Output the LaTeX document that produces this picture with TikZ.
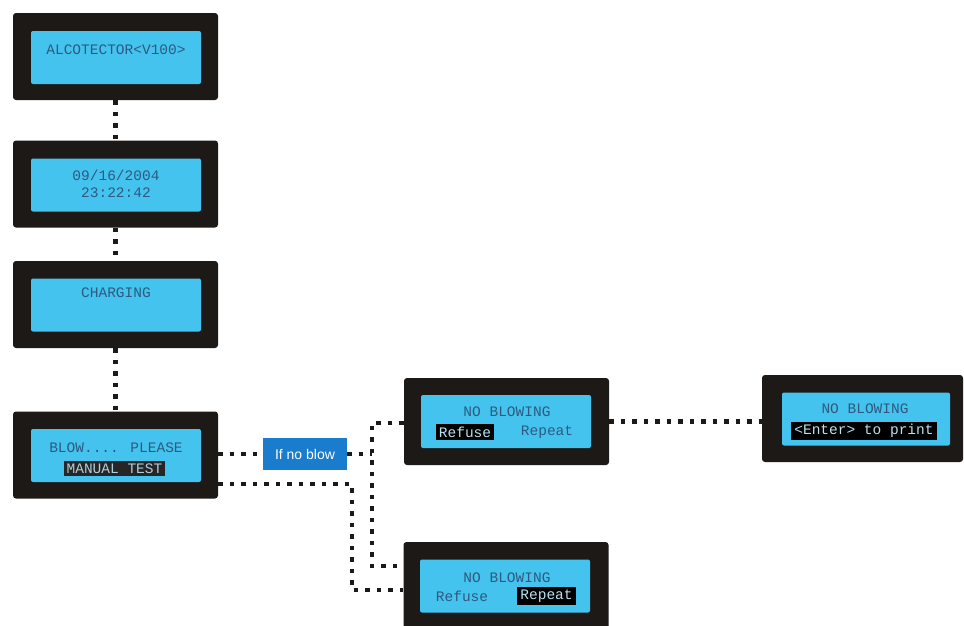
\documentclass[tikz,border=0pt]{standalone}
\usepackage{fontspec}
\setmainfont{Liberation Sans}
\newfontfamily\lcdfont{Liberation Mono}
\definecolor{framec}{HTML}{1C1917}
\definecolor{screenc}{HTML}{43C3EE}
\definecolor{lcdtext}{HTML}{2E5A80}
\definecolor{hltext}{HTML}{B8E2F0}
\definecolor{lblc}{HTML}{1A7CCC}
\begin{document}
\begin{tikzpicture}[x=1pt,y=-1pt,
  frame/.style={fill=framec, rounded corners=3pt, minimum width=205pt, minimum height=87pt, inner sep=0pt},
  screen/.style={fill=screenc, rounded corners=2pt, minimum width=170pt, minimum height=53pt, inner sep=0pt},
  lcd/.style={font=\lcdfont\fontsize{14.5}{16}\selectfont, text=lcdtext, inner sep=0pt},
  hl/.style={lcd, fill=black, text=hltext, inner xsep=3pt, inner ysep=2.5pt},
  dotline/.style={draw=framec, line width=4.5pt, dash pattern=on 4.5pt off 7pt},
  lbl/.style={fill=lblc, text=white, font=\fontsize{14}{16}\selectfont, minimum width=84pt, minimum height=32pt, inner sep=0pt}]
\clip (0,0) rectangle (964,625);
\fill[white] (0,0) rectangle (964,625);
% connectors first (under boxes)
\node[frame] (B1) at (115.5,56.5) {};
\node[frame] (B2) at (115.5,184) {};
\node[frame] (B3) at (115.5,304.5) {};
\node[frame] (B4) at (115.5,455) {};
\node[frame] (N1) at (506.5,421.5) {};
\node[frame, minimum width=201pt] (N3) at (862.5,418.5) {};
\node[frame] (N2) at (506,585.5) {};
\node[lbl] (L) at (305,454) {If no blow};
\coordinate (J) at (372,454);
\coordinate (K) at (352,590);
\draw[dotline] (B1.south) -- (B2.north);
\draw[dotline] (B2.south) -- (B3.north);
\draw[dotline] (B3.south) -- (B4.north);
\draw[dotline] (B4.east |- L.west) -- (L.west);
\draw[dotline] (L.east) -- (J);
\draw[dotline] ([yshift=-1.5pt]N1.west) -| (J) |- ([yshift=19.5pt]N2.west);
\draw[dotline] ([yshift=-29pt]B4.east) -| (K) -- (K -| N2.west);
\draw[dotline] (N1.east) -- (N1.east -| N3.west);
% screens
\node[screen] (S1) at (116,57.5) {};
\node[screen] (S2) at (116,185) {};
\node[screen] (S3) at (116,305) {};
\node[screen] (S4) at (116,455.5) {};
\node[screen] (SN1) at (506,421.5) {};
\node[screen, minimum width=168pt] (SN3) at (866,419) {};
\node[screen] (SN2) at (505,586) {};
% texts
\node[lcd] (t1) at (116,50) {ALCOTECTOR<V100>};
\node[lcd] (t2a) at (116,175) {09/16/2004};
\node[lcd] (t2b) at (116,193) {23:22:42};
\node[lcd] (t3) at (116,293) {CHARGING};
\node[lcd] (t4a) at (116,448) {BLOW.... PLEASE};
\node[hl, fill=black!85, text=hltext!80!gray] (t4b) at (114.5,468.5) {MANUAL TEST};
\node[lcd] (n1a) at (507,412) {NO BLOWING};
\node[hl] (n1b) at (465,432) {Refuse};
\node[lcd] (n1c) at (547,432) {Repeat};
\node[lcd] (n3a) at (865,409) {NO BLOWING};
\node[hl] (n3b) at (864,431) {<Enter> to print};
\node[lcd] (n2a) at (507,578) {NO BLOWING};
\node[lcd] (n2b) at (462,596) {Refuse};
\node[hl] (n2c) at (546.5,596) {Repeat};
\end{tikzpicture}
\end{document}
